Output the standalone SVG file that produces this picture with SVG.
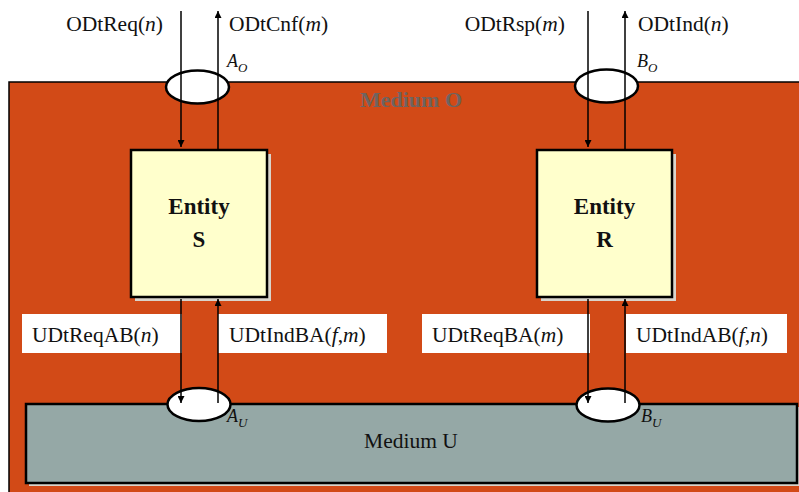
<svg xmlns="http://www.w3.org/2000/svg" width="799" height="492" viewBox="0 0 799 492" font-family="'Liberation Serif', 'DejaVu Serif', serif">
<style>
text{font-family:'Liberation Serif','DejaVu Serif',serif;fill:#111}
.lbl{font-size:21.5px}
.it{font-style:italic}
.ent{font-size:23px;font-weight:bold;text-anchor:middle}
.pt{font-size:18px;font-style:italic}
.sub{font-size:13px;font-style:italic}
.box{fill:#ffffcc;stroke:#000;stroke-width:2.5}
.shadow{fill:#d9d4cc}
.port{fill:#fff;stroke:#000;stroke-width:2.5}
.wl{fill:#fff}
.con{stroke:#000;stroke-width:1.5;fill:none}
</style>
<defs>
<marker id="ah" viewBox="0 0 10 10" refX="10" refY="5" markerWidth="8" markerHeight="7" markerUnits="userSpaceOnUse" orient="auto">
<path d="M0,0 L10,5 L0,10 z" fill="#000"/>
</marker>
</defs>
<rect width="799" height="492" fill="#fff"/>
<g id="mediumO">
<rect x="9" y="82" width="800" height="420" fill="#d24a17" stroke="#000" stroke-width="1.5"/>
<text x="411" y="107" style="font-size:22px;font-weight:bold;fill:#6e6460" text-anchor="middle">Medium O</text>
</g>
<g id="mediumU">
<rect x="29" y="407" width="771" height="79" class="shadow"/>
<rect x="26" y="404" width="771" height="79" fill="#95a8a6" stroke="#000" stroke-width="2.5"/>
<text x="411" y="448" class="lbl" text-anchor="middle">Medium U</text>
</g>
<g id="portAO">
<ellipse cx="197.5" cy="87" rx="31.5" ry="16.5" class="port"/>
<text x="227" y="67" class="pt">A<tspan class="sub" dy="5">O</tspan></text>
</g>
<g id="portBO">
<ellipse cx="606.5" cy="86" rx="31.5" ry="16.5" class="port"/>
<text x="637" y="67" class="pt">B<tspan class="sub" dy="5">O</tspan></text>
</g>
<g id="portAU">
<ellipse cx="199" cy="404.5" rx="31.5" ry="16.5" class="port"/>
<text x="227" y="422" class="pt">A<tspan class="sub" dy="5">U</tspan></text>
</g>
<g id="portBU">
<ellipse cx="608" cy="405" rx="31.5" ry="16.5" class="port"/>
<text x="641" y="422" class="pt">B<tspan class="sub" dy="5">U</tspan></text>
</g>
<g id="entityS">
<rect x="135" y="154" width="136" height="147" class="shadow"/>
<rect x="131" y="150" width="136" height="147" class="box"/>
<text x="199" y="214" class="ent">Entity</text>
<text x="199" y="247" class="ent">S</text>
</g>
<g id="entityR">
<rect x="541" y="154" width="135" height="147" class="shadow"/>
<rect x="537" y="150" width="135" height="147" class="box"/>
<text x="604.5" y="214" class="ent">Entity</text>
<text x="604.5" y="247" class="ent">R</text>
</g>
<g id="labelUDtReqAB">
<rect x="22" y="314" width="160" height="39" class="wl"/>
<text x="32" y="342" class="lbl">UDtReqAB(<tspan class="it">n</tspan>)</text>
</g>
<g id="labelUDtIndBA">
<rect x="218" y="314" width="169" height="39" class="wl"/>
<text x="229" y="342" class="lbl">UDtIndBA(<tspan class="it">f</tspan>,<tspan class="it">m</tspan>)</text>
</g>
<g id="labelUDtReqBA">
<rect x="422" y="314" width="168" height="39" class="wl"/>
<text x="432" y="342" class="lbl">UDtReqBA(<tspan class="it">m</tspan>)</text>
</g>
<g id="labelUDtIndAB">
<rect x="626" y="314" width="161" height="39" class="wl"/>
<text x="636" y="342" class="lbl">UDtIndAB(<tspan class="it">f</tspan>,<tspan class="it">n</tspan>)</text>
</g>
<g id="topLabels">
<text x="163" y="31" class="lbl" text-anchor="end">ODtReq(<tspan class="it">n</tspan>)</text>
<text x="229" y="31" class="lbl">ODtCnf(<tspan class="it">m</tspan>)</text>
<text x="565" y="31" class="lbl" text-anchor="end">ODtRsp(<tspan class="it">m</tspan>)</text>
<text x="638" y="31" class="lbl">ODtInd(<tspan class="it">n</tspan>)</text>
</g>
<g id="connectors">
<line x1="181" y1="11" x2="181" y2="147" class="con" marker-end="url(#ah)"/>
<line x1="218" y1="149" x2="218" y2="11" class="con" marker-end="url(#ah)"/>
<line x1="588" y1="11" x2="588" y2="147" class="con" marker-end="url(#ah)"/>
<line x1="625" y1="149" x2="625" y2="11" class="con" marker-end="url(#ah)"/>
<line x1="181" y1="299" x2="181" y2="403" class="con" marker-end="url(#ah)"/>
<line x1="218" y1="403" x2="218" y2="299" class="con" marker-end="url(#ah)"/>
<line x1="588" y1="299" x2="588" y2="403" class="con" marker-end="url(#ah)"/>
<line x1="625" y1="403" x2="625" y2="299" class="con" marker-end="url(#ah)"/>
</g>
</svg>
